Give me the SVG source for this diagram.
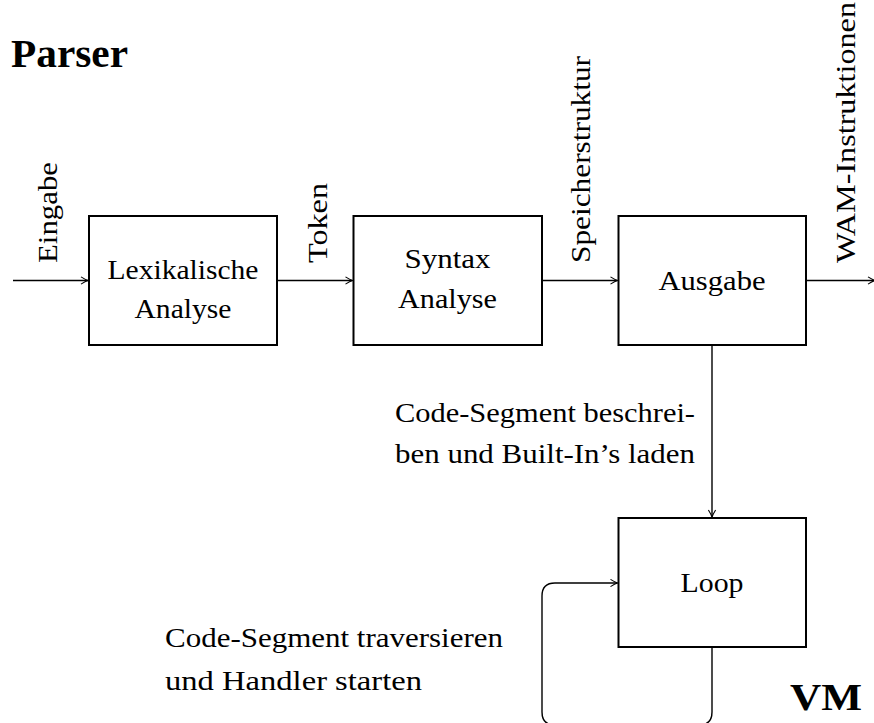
<svg xmlns="http://www.w3.org/2000/svg" width="874" height="723" viewBox="0 0 874 723">
<defs>
<style>
.box{fill:none;stroke:#000;stroke-width:2}
.con{fill:none;stroke:#000;stroke-width:1.4}
.t{font-family:"Liberation Serif","Times New Roman",serif;font-size:28px;fill:#000}
.c{text-anchor:middle}
.b{font-weight:bold}
</style>
<marker id="arr" viewBox="-8 -5 10 10" refX="0" refY="0" markerWidth="10" markerHeight="10" markerUnits="userSpaceOnUse" orient="auto">
<path d="M-7,-3.6 Q-2.5,-0.8 0,0 Q-2.5,0.8 -7,3.6" fill="none" stroke="#000" stroke-width="1.1"/>
</marker>
</defs>
<rect width="874" height="723" fill="#fff"/>
<text class="t b" x="11" y="67" style="font-size:39px" textLength="117" lengthAdjust="spacingAndGlyphs">Parser</text>
<text class="t b" x="790" y="710" style="font-size:38px" textLength="72" lengthAdjust="spacingAndGlyphs">VM</text>
<g id="lex">
<rect class="box" x="89" y="216" width="188" height="129"/>
<text class="t c" x="183" y="279" textLength="151" lengthAdjust="spacingAndGlyphs">Lexikalische</text>
<text class="t c" x="183" y="318" textLength="97" lengthAdjust="spacingAndGlyphs">Analyse</text>
</g>
<g id="syntax">
<rect class="box" x="353.5" y="216" width="188.5" height="129"/>
<text class="t c" x="447.5" y="268" textLength="86" lengthAdjust="spacingAndGlyphs">Syntax</text>
<text class="t c" x="447.5" y="308" textLength="99" lengthAdjust="spacingAndGlyphs">Analyse</text>
</g>
<g id="ausgabe">
<rect class="box" x="618.5" y="216" width="187.5" height="129"/>
<text class="t c" x="712" y="290" textLength="107" lengthAdjust="spacingAndGlyphs">Ausgabe</text>
</g>
<g id="loop">
<rect class="box" x="618.5" y="518" width="187.5" height="129"/>
<text class="t c" x="712" y="592" textLength="63" lengthAdjust="spacingAndGlyphs">Loop</text>
</g>
<g id="connectors">
<line class="con" x1="13" y1="280.5" x2="88" y2="280.5" marker-end="url(#arr)"/>
<line class="con" x1="278" y1="280.5" x2="352.5" y2="280.5" marker-end="url(#arr)"/>
<line class="con" x1="543" y1="280.5" x2="617.5" y2="280.5" marker-end="url(#arr)"/>
<line class="con" x1="807" y1="280.5" x2="875" y2="280.5" marker-end="url(#arr)"/>
<line class="con" x1="712" y1="346" x2="712" y2="517" marker-end="url(#arr)"/>
<path class="con" d="M712,648 V712 Q712,725 699,725 H555 Q542,725 542,712 V596 Q542,583 555,583 H617.5" marker-end="url(#arr)"/>
</g>
<g id="labels">
<text class="t" transform="translate(57,263) rotate(-90)" textLength="101" lengthAdjust="spacingAndGlyphs">Eingabe</text>
<text class="t" transform="translate(327,263) rotate(-90)" textLength="80" lengthAdjust="spacingAndGlyphs">Token</text>
<text class="t" transform="translate(590,263) rotate(-90)" textLength="207" lengthAdjust="spacingAndGlyphs">Speicherstruktur</text>
<text class="t" transform="translate(855,263) rotate(-90)" textLength="261" lengthAdjust="spacingAndGlyphs">WAM-Instruktionen</text>
<text class="t" x="395" y="422" textLength="300" lengthAdjust="spacingAndGlyphs">Code-Segment beschrei-</text>
<text class="t" x="395" y="463" textLength="300" lengthAdjust="spacingAndGlyphs">ben und Built-In’s laden</text>
<text class="t" x="165" y="647" textLength="338" lengthAdjust="spacingAndGlyphs">Code-Segment traversieren</text>
<text class="t" x="165" y="690" textLength="257" lengthAdjust="spacingAndGlyphs">und Handler starten</text>
</g>
</svg>
